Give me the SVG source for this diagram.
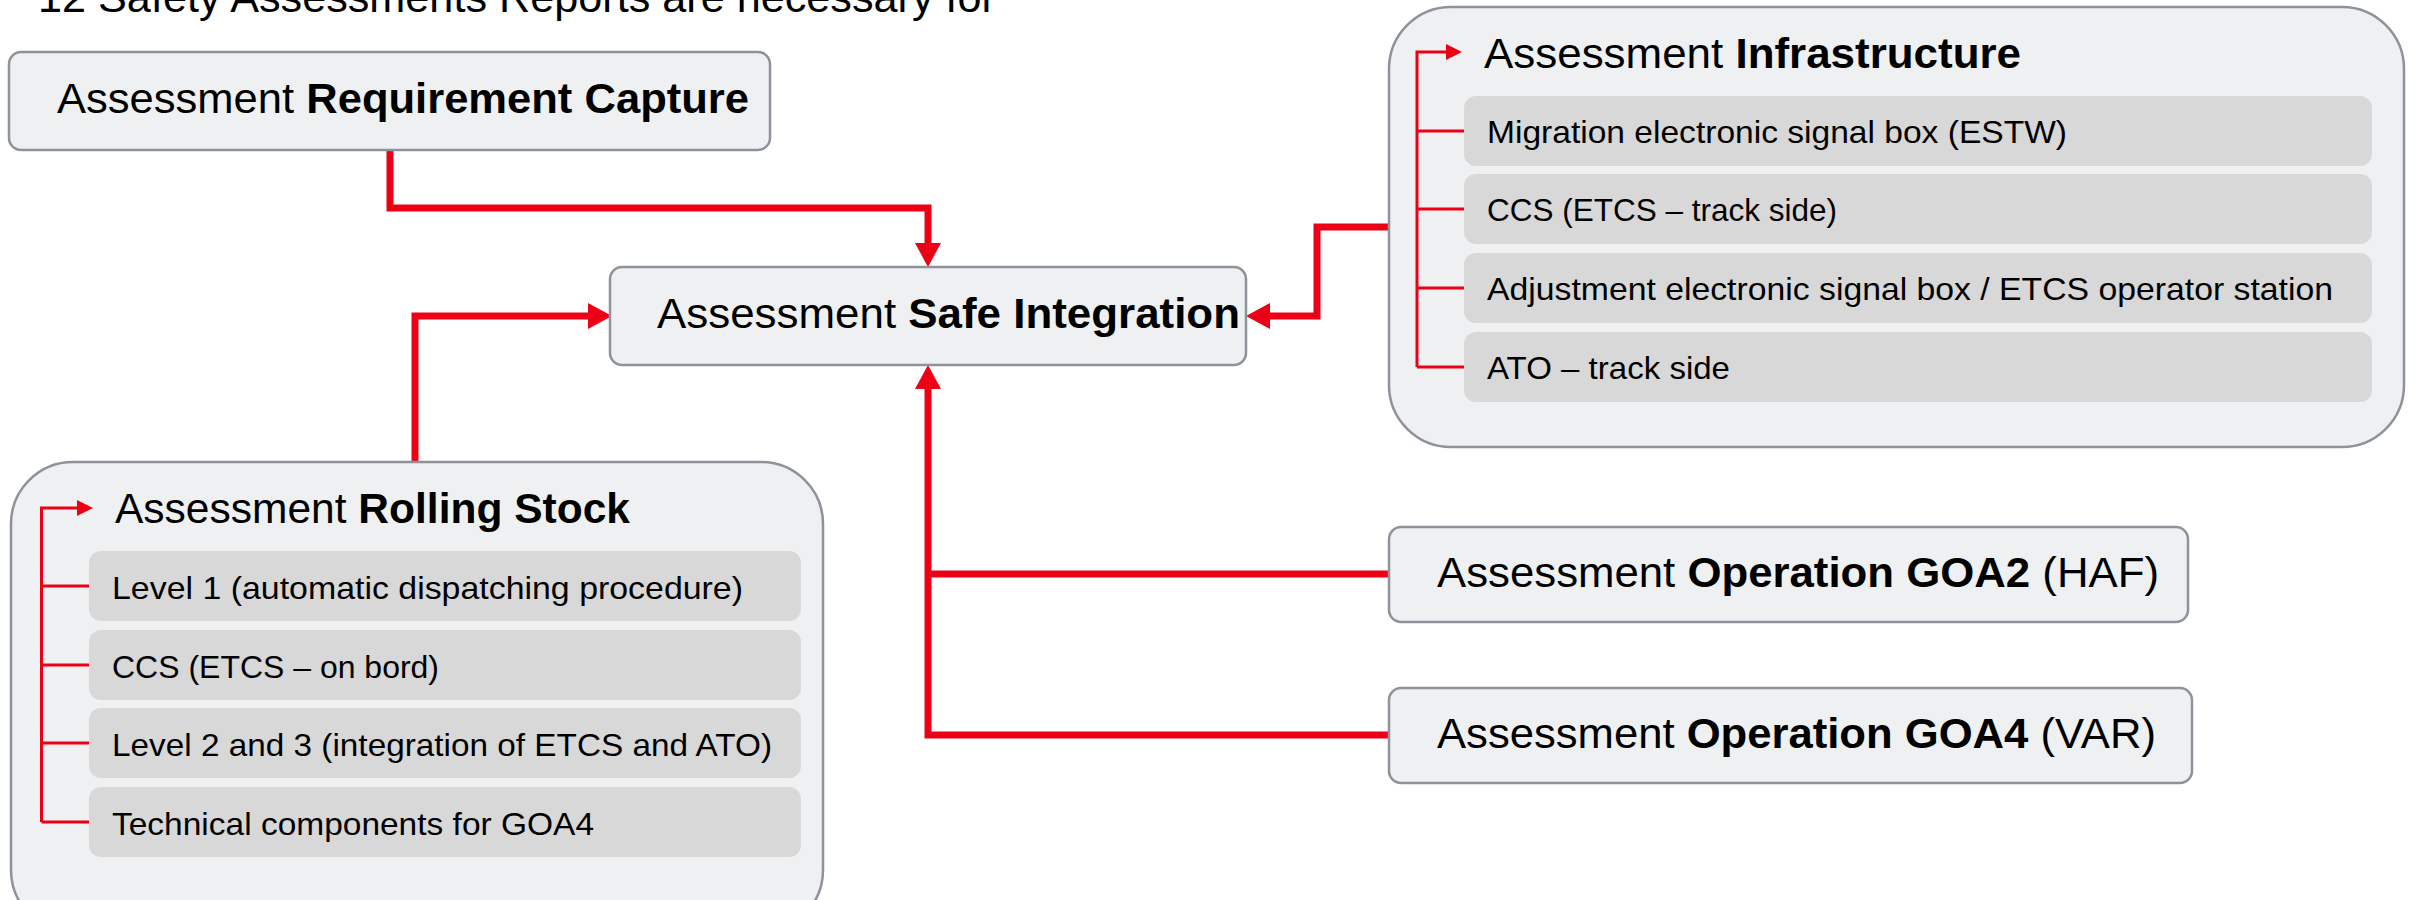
<svg xmlns="http://www.w3.org/2000/svg" width="2418" height="900" viewBox="0 0 2418 900">
  <defs>
    <style>
      text { font-family: "Liberation Sans", "Noto Sans", sans-serif; fill: #000; }
      .b { font-weight: bold; }
      .box { fill: #eef0f1; stroke: #8e929a; stroke-width: 2.5; }
      .sub { fill: #d8d8d8; }
      .hdr { font-size: 43px; }
      .item { font-size: 32px; }
      .conn { fill: none; stroke: #ec0016; stroke-width: 7; }
      .tree { fill: none; stroke: #ec0016; stroke-width: 3; }
    </style>
    <marker id="arrow" viewBox="0 0 24 26" refX="0" refY="13" markerWidth="24" markerHeight="26" markerUnits="userSpaceOnUse" orient="auto">
      <path d="M0,0 L24,13 L0,26 Z" fill="#ec0016"/>
    </marker>
    <marker id="arrowSmall" viewBox="0 0 16 16" refX="0" refY="8" markerWidth="16" markerHeight="16" markerUnits="userSpaceOnUse" orient="auto">
      <path d="M0,0 L16,8 L0,16 Z" fill="#ec0016"/>
    </marker>
  </defs>

  <rect width="2418" height="900" fill="#ffffff"/>

  <text x="38" y="12" font-size="42" textLength="958" lengthAdjust="spacingAndGlyphs">12 Safety Assessments Reports are necessary for</text>

  <!-- connectors -->
  <g id="connectors">
    <path class="conn" d="M390,150 V208 H928 V243" marker-end="url(#arrow)"/>
    <path class="conn" d="M415,463 V316 H588" marker-end="url(#arrow)"/>
    <path class="conn" d="M1389,227 H1317 V316 H1270" marker-end="url(#arrow)"/>
    <path class="conn" d="M1389,574 H928"/>
    <path class="conn" d="M1389,735 H928 V389" marker-end="url(#arrow)"/>
  </g>

  <g id="requirement-capture">
    <rect class="box" x="9" y="52" width="761" height="98" rx="12"/>
    <text class="hdr" x="57" y="113" textLength="692" lengthAdjust="spacingAndGlyphs">Assessment <tspan class="b">Requirement Capture</tspan></text>
  </g>

  <g id="safe-integration">
    <rect class="box" x="610" y="267" width="636" height="98" rx="12"/>
    <text class="hdr" x="657" y="328" textLength="583" lengthAdjust="spacingAndGlyphs">Assessment <tspan class="b">Safe Integration</tspan></text>
  </g>

  <g id="infrastructure">
    <rect class="box" x="1389" y="7" width="1015" height="440" rx="62"/>
    <text class="hdr" x="1484" y="68" textLength="537" lengthAdjust="spacingAndGlyphs">Assessment <tspan class="b">Infrastructure</tspan></text>
    <rect class="sub" x="1464" y="96" width="908" height="70" rx="12"/>
    <rect class="sub" x="1464" y="174" width="908" height="70" rx="12"/>
    <rect class="sub" x="1464" y="253" width="908" height="70" rx="12"/>
    <rect class="sub" x="1464" y="332" width="908" height="70" rx="12"/>
    <text class="item" x="1487" y="143" textLength="580" lengthAdjust="spacingAndGlyphs">Migration electronic signal box (ESTW)</text>
    <text class="item" x="1487" y="221" textLength="350" lengthAdjust="spacingAndGlyphs">CCS (ETCS – track side)</text>
    <text class="item" x="1487" y="300" textLength="846" lengthAdjust="spacingAndGlyphs">Adjustment electronic signal box / ETCS operator station</text>
    <text class="item" x="1487" y="379" textLength="243" lengthAdjust="spacingAndGlyphs">ATO – track side</text>
    <path class="tree" d="M1417,367 V52 H1446" marker-end="url(#arrowSmall)"/>
    <path class="tree" d="M1417,131 H1464 M1417,209 H1464 M1417,288 H1464 M1417,367 H1464"/>
  </g>

  <g id="rolling-stock">
    <rect class="box" x="11" y="462" width="812" height="470" rx="62"/>
    <text class="hdr" x="115" y="523" textLength="515" lengthAdjust="spacingAndGlyphs">Assessment <tspan class="b">Rolling Stock</tspan></text>
    <rect class="sub" x="89" y="551" width="712" height="70" rx="12"/>
    <rect class="sub" x="89" y="630" width="712" height="70" rx="12"/>
    <rect class="sub" x="89" y="708" width="712" height="70" rx="12"/>
    <rect class="sub" x="89" y="787" width="712" height="70" rx="12"/>
    <text class="item" x="112" y="599" textLength="631" lengthAdjust="spacingAndGlyphs">Level 1 (automatic dispatching procedure)</text>
    <text class="item" x="112" y="678" textLength="327" lengthAdjust="spacingAndGlyphs">CCS (ETCS – on bord)</text>
    <text class="item" x="112" y="756" textLength="660" lengthAdjust="spacingAndGlyphs">Level 2 and 3 (integration of ETCS and ATO)</text>
    <text class="item" x="112" y="835" textLength="482" lengthAdjust="spacingAndGlyphs">Technical components for GOA4</text>
    <path class="tree" d="M41.5,822 V508 H77" marker-end="url(#arrowSmall)"/>
    <path class="tree" d="M41.5,586 H89 M41.5,665 H89 M41.5,743 H89 M41.5,822 H89"/>
  </g>

  <g id="operation-goa2">
    <rect class="box" x="1389" y="527" width="799" height="95" rx="12"/>
    <text class="hdr" x="1437" y="587" textLength="722" lengthAdjust="spacingAndGlyphs">Assessment <tspan class="b">Operation GOA2</tspan> (HAF)</text>
  </g>

  <g id="operation-goa4">
    <rect class="box" x="1389" y="688" width="803" height="95" rx="12"/>
    <text class="hdr" x="1437" y="748" textLength="719" lengthAdjust="spacingAndGlyphs">Assessment <tspan class="b">Operation GOA4</tspan> (VAR)</text>
  </g>
</svg>
